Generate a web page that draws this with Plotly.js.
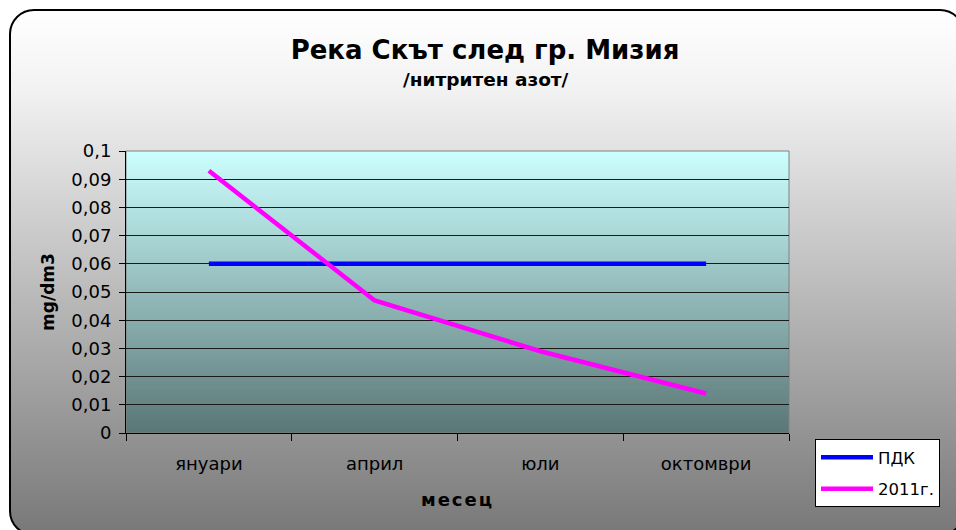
<!DOCTYPE html>
<html>
<head>
<meta charset="utf-8">
<script src="https://cdn.plot.ly/plotly-3.0.1.min.js"></script>
<style>
  html, body { margin:0; padding:0; width:956px; height:530px; overflow:hidden; background:#ffffff; }
  #frame { position:absolute; left:9px; top:9px; width:956px; height:527px; box-sizing:border-box;
           border:2px solid #000; border-radius:25px;
           background:linear-gradient(to bottom, #ffffff 0%, #f2f2f2 15%, #787878 100%); }
  #chart { position:absolute; left:0; top:0; width:956px; height:530px; }
  .xtitle { letter-spacing: 2px; }
</style>
</head>
<body>
<div id="frame"></div>
<div id="chart"></div>
<script>
// ---- data ----
const months = ['януари', 'април', 'юли', 'октомври'];
const pdk = [0.06, 0.06, 0.06, 0.06];
const y2011 = [0.093, 0.047, 0.029, 0.014];
const yTickVals = [0, 0.01, 0.02, 0.03, 0.04, 0.05, 0.06, 0.07, 0.08, 0.09, 0.1];
const yTickText = ['0', '0,01', '0,02', '0,03', '0,04', '0,05', '0,06', '0,07', '0,08', '0,09', '0,1'];
const seriesNames = ['ПДК', '2011г.'];
const titleText = 'Река Скът след гр. Мизия';
const subtitleText = '/нитритен азот/';

// ---- plot area gradient (shapes in domain coords) ----
function lerp(a, b, t) { return Math.round(a + (b - a) * t); }
const gradTop = [204, 255, 255], gradBot = [90, 118, 118];
const shapes = [];
const N = 80;
for (let i = 0; i < N; i++) {
  const t = (i + 0.5) / N;
  const c = 'rgb(' + lerp(gradTop[0], gradBot[0], t) + ',' + lerp(gradTop[1], gradBot[1], t) + ',' + lerp(gradTop[2], gradBot[2], t) + ')';
  shapes.push({type:'rect', xref:'x domain', yref:'y domain', x0:0, x1:1,
    y1: 1 - i / N, y0: Math.max(0, 1 - (i + 1) / N - 0.002), fillcolor:c, line:{width:0}, layer:'below'});
}
shapes.push({type:'rect', xref:'x domain', yref:'y domain', x0:0, x1:1, y0:0, y1:1,
  line:{color:'#808080', width:1}, fillcolor:'rgba(0,0,0,0)', layer:'below'});

const font = 'DejaVu Sans, Liberation Sans, Arial, sans-serif';
const traces = [
  {x: months, y: pdk, name: seriesNames[0], type:'scatter', mode:'lines',
   line:{color:'#0000ff', width:4.5}, legendgroup:'a'},
  {x: months, y: y2011, name: seriesNames[1], type:'scatter', mode:'lines',
   line:{color:'#ff00ff', width:4.5}, legendgroup:'b'}
];

const layout = {
  width: 956, height: 530,
  paper_bgcolor: 'rgba(0,0,0,0)', plot_bgcolor: 'rgba(0,0,0,0)',
  margin: {l:126, r:167, t:151, b:97},
  separators: ', ',
  font: {family: font, color:'#000', size:16},
  title: {text: '<b>' + titleText + '</b>', x: 485/956, xanchor:'center', y: 1 - 50/530, yanchor:'middle',
          font:{size:26, family:font, color:'#000'}},
  annotations: [{text: '<b>' + subtitleText + '</b>', xref:'paper', yref:'paper', showarrow:false,
    x: (486-126)/(956-126-167), xanchor:'center', y: 1 + (151-79)/(530-151-97), yanchor:'middle',
    font:{size:18.5, family:font, color:'#000'}}],
  xaxis: {type:'category', tickson:'boundaries', ticks:'outside', ticklen:7, tickcolor:'#000', tickwidth:1,
          showline:true, linecolor:'#000', linewidth:1, showgrid:false, zeroline:false,
          tickfont:{size:18, family:font, color:'#000'}, ticklabelstandoff: 14,
          title:{text:'<b>месец</b>', font:{size:18, family:font, color:'#000'}, standoff:20},
          range:[-0.5, 3.5]},
  yaxis: {range:[0, 0.1], tickvals: yTickVals, ticktext: yTickText, ticks:'outside', ticklen:6,
          tickcolor:'#000', showline:true, linecolor:'#000', linewidth:1,
          showgrid:true, gridcolor:'#1a1a1a', gridwidth:1, zeroline:false,
          tickfont:{size:18, family:font, color:'#000'}, ticklabelstandoff: 4,
          title:{text:'<b>mg/dm3</b>', font:{size:17, family:font, color:'#000'}, standoff:12}},
  shapes: shapes,
  showlegend: true,
  legend: {x: 815/956, xanchor:'left', y: 1 - 439/530, yanchor:'top', xref:'container', yref:'container',
           bgcolor:'#ffffff', bordercolor:'#000', borderwidth:1, font:{size:16.5, family:font, color:'#000'},
           itemwidth: 52, traceorder:'grouped', tracegroupgap: 7}
};

Plotly.newPlot('chart', traces, layout, {displayModeBar:false, staticPlot:true});
</script>
</body>
</html>
